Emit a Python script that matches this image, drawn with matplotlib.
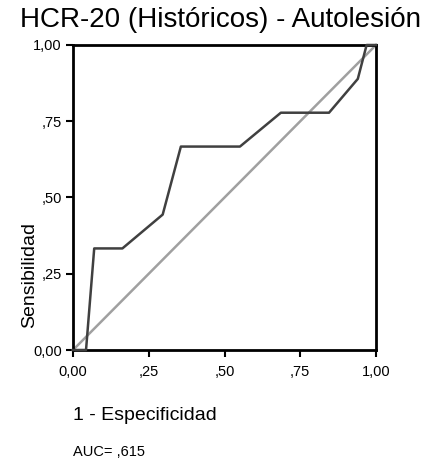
import matplotlib
matplotlib.use('Agg')
import matplotlib.pyplot as plt
from matplotlib.ticker import FixedLocator

plt.rcParams['font.family'] = ['Liberation Sans', 'DejaVu Sans']

# curva ROC: 1 - especificidad vs sensibilidad
fpr = [0.0, 0.043, 0.07, 0.163, 0.296, 0.356, 0.551, 0.686, 0.845, 0.94, 0.969, 1.0]
tpr = [0.0, 0.0, 0.333, 0.333, 0.444, 0.667, 0.667, 0.778, 0.778, 0.889, 1.0, 1.0]
ticks = [0.0, 0.25, 0.5, 0.75, 1.0]
tick_labels = ['0,00', ',25', ',50', ',75', '1,00']
auc_text = 'AUC= ,615'

fig = plt.figure(figsize=(4.37, 4.65), dpi=100)
ax = fig.add_axes([73 / 437, 1 - 350 / 465, 303 / 437, 305 / 465])

ax.plot([0, 1], [0, 1], color='#a0a0a0', lw=1.8, clip_on=False, zorder=2)
ax.plot(fpr, tpr, color='#404040', lw=1.8, clip_on=False, zorder=3)

ax.set_xlim(0, 1)
ax.set_ylim(0, 1)
ax.xaxis.set_major_locator(FixedLocator(ticks))
ax.yaxis.set_major_locator(FixedLocator(ticks))
ax.set_xticklabels(tick_labels)
ax.set_yticklabels(tick_labels)
ax.tick_params(direction='out', length=5, width=1.5, labelsize=10.5, pad=3)
ax.tick_params(axis='x', pad=6)
for s in ax.spines.values():
    s.set_linewidth(2)

fig.text(220 / 437, 1 - 20 / 465, 'HCR-20 (Históricos) - Autolesión', ha='center', va='center', fontsize=20)
fig.text(30 / 437, 1 - 275 / 465, 'Sensibilidad', rotation=90, ha='center', va='center', fontsize=14)
fig.text(73 / 437, 1 - 415 / 465, '1 - Especificidad', ha='left', va='center', fontsize=14)
fig.text(73 / 437, 1 - 452 / 465, auc_text, ha='left', va='center', fontsize=10.5)

fig.savefig('out.png', dpi=100)
